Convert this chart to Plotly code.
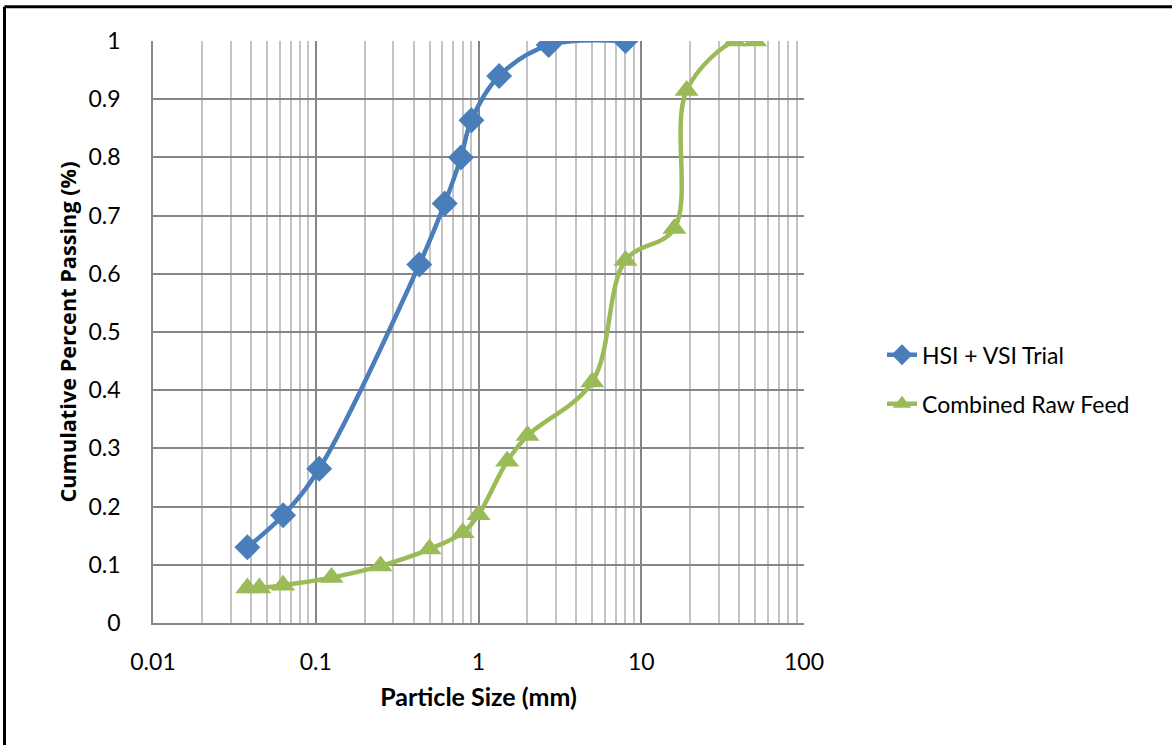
import plotly.graph_objects as go

# HSI + VSI Trial
hsi_size = [0.038, 0.063, 0.105, 0.433, 0.62, 0.78, 0.905, 1.34, 2.7, 8.0]
hsi_pass = [0.13, 0.185, 0.265, 0.616, 0.721, 0.80, 0.864, 0.94, 0.993, 1.0]

# Combined Raw Feed
raw_size = [0.038, 0.045, 0.063, 0.125, 0.25, 0.5, 0.8, 1.0, 1.5, 2.0, 5.0, 8.0, 16.0, 19.0, 37.5, 50.0]
raw_pass = [0.06, 0.06, 0.065, 0.078, 0.098, 0.127, 0.155, 0.186, 0.278, 0.322, 0.414, 0.623, 0.678, 0.915, 1.0, 1.0]

x_ticks = [0.01, 0.1, 1, 10, 100]
x_tick_labels = ["0.01", "0.1", "1", "10", "100"]
y_ticks = [0, 0.1, 0.2, 0.3, 0.4, 0.5, 0.6, 0.7, 0.8, 0.9, 1]
y_tick_labels = ["0", "0.1", "0.2", "0.3", "0.4", "0.5", "0.6", "0.7", "0.8", "0.9", "1"]

BLUE = "#4A7EBB"
GREEN = "#9BBB59"
FONT = "Lato"

fig = go.Figure()
fig.add_trace(go.Scatter(
    x=hsi_size, y=hsi_pass, name="HSI + VSI Trial", mode="lines+markers",
    line=dict(color=BLUE, width=4.5, shape="spline", smoothing=1),
    marker=dict(symbol="diamond", size=20, color=BLUE),
    legendgroup="a",
))
fig.add_trace(go.Scatter(
    x=raw_size, y=raw_pass, name="Combined Raw Feed", mode="lines+markers",
    line=dict(color=GREEN, width=4.5, shape="spline", smoothing=1),
    marker=dict(symbol="triangle-up", size=21, color=GREEN),
    legendgroup="b",
))

W, H = 1172, 745
L, R, T, B = 153, 804, 40.7, 622.7

def px(v):
    return (v - L) / (R - L)

def py(v):
    return (B - v) / (B - T)

fig.update_layout(
    width=W, height=H,
    margin=dict(l=L, r=W - R, t=T, b=H - B, pad=0),
    paper_bgcolor="white", plot_bgcolor="white",
    font=dict(family=FONT, size=23, color="#000000"),
    legend=dict(
        x=px(882), y=py(379),
        xanchor="left", yanchor="middle",
        font=dict(family=FONT, size=23), tracegroupgap=16,
        bgcolor="rgba(0,0,0,0)",
    ),
    shapes=[
        dict(type="line", xref="paper", yref="paper",
             x0=px(4.5), x1=px(1200), y0=py(6.5), y1=py(6.5),
             line=dict(color="black", width=3)),
        dict(type="line", xref="paper", yref="paper",
             x0=px(4.5), x1=px(4.5), y0=py(6.5), y1=py(780),
             line=dict(color="black", width=3)),
    ],
)

fig.update_xaxes(
    type="log", range=[-2, 2],
    tickvals=x_ticks, ticktext=x_tick_labels,
    showgrid=True, gridcolor="#868686", gridwidth=1.5,
    minor=dict(dtick="D1", showgrid=True, gridcolor="#C4C4C4", gridwidth=1.5, ticks=""),
    showline=True, linecolor="#868686", linewidth=1.5,
    ticks="", ticklabelstandoff=18,
    tickfont=dict(family=FONT, size=23),
    title=dict(text="<b>Particle Size (mm)</b>", font=dict(family=FONT, size=25), standoff=14),
    zeroline=False,
)
fig.update_yaxes(
    range=[0, 1],
    tickvals=y_ticks, ticktext=y_tick_labels,
    showgrid=True, gridcolor="#868686", gridwidth=1.5,
    showline=True, linecolor="#868686", linewidth=1.5,
    ticks="", ticklabelstandoff=26,
    tickfont=dict(family=FONT, size=23),
    title=dict(text="<b>Cumulative Percent Passing (%)</b>",
               font=dict(family="Open Sans", size=21.7), standoff=6),
    zeroline=False,
)

fig.write_html(
    "out.html",
    config={"displayModeBar": False},
    post_script="document.body.style.margin='0';document.body.style.overflow='hidden';",
)
